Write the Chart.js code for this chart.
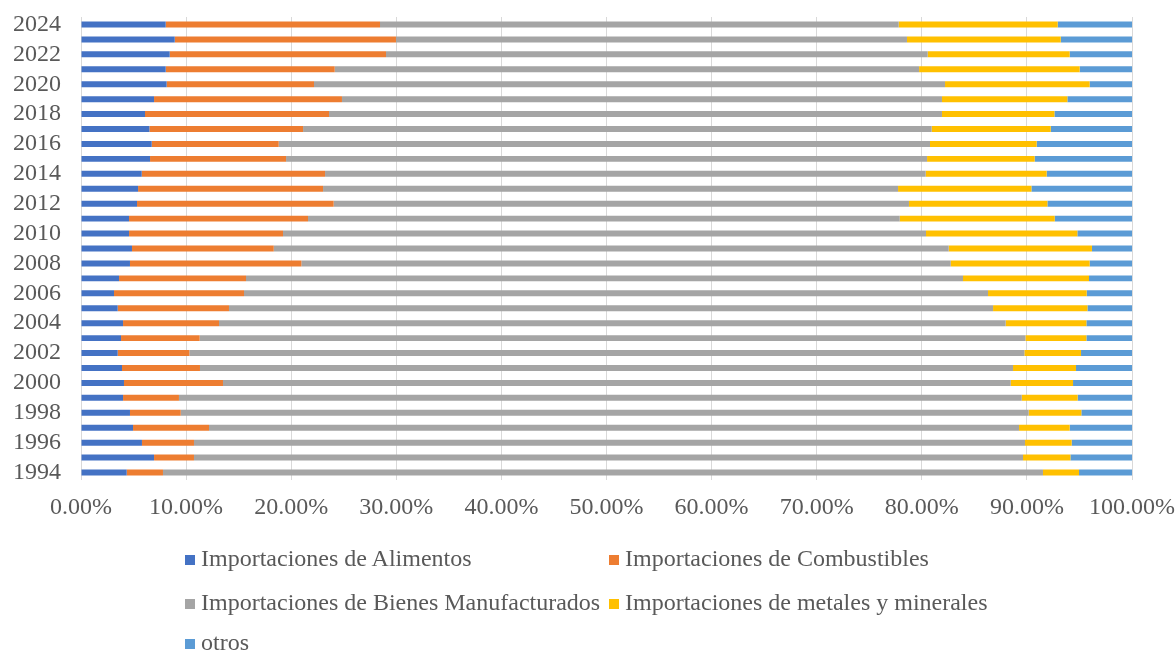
<!DOCTYPE html>
<html>
<head>
<meta charset="utf-8">
<script src="https://cdn.jsdelivr.net/npm/chart.js@4.4.1/dist/chart.umd.min.js"></script>
<style>
  body { margin: 0; background: #fff; }
  #wrap { position: relative; width: 1176px; height: 652px; }
  #legend { position: absolute; left: 0; top: 0; width: 1176px; height: 652px; pointer-events: none;
            font-family: "Liberation Serif", "Times New Roman", serif; font-size: 24px; color: #595959; }
  .item { position: absolute; line-height: 24px; white-space: nowrap; }
  .box { display: inline-block; width: 10px; height: 10px; margin-right: 6px; vertical-align: 1px; }
</style>
</head>
<body>
<div id="wrap">
  <canvas id="importChart" width="1176" height="652"></canvas>
  <div id="legend"></div>
</div>
<script>
const years = [1994, 1995, 1996, 1997, 1998, 1999, 2000, 2001, 2002, 2003, 2004, 2005, 2006, 2007, 2008,
               2009, 2010, 2011, 2012, 2013, 2014, 2015, 2016, 2017, 2018, 2019, 2020, 2021, 2022, 2023, 2024];

const alimentos = [4.35, 6.95, 5.80, 4.95, 4.66, 4.00, 4.09, 3.90, 3.49, 3.81, 4.00, 3.49, 3.14, 3.62, 4.66,
                   4.85, 4.57, 4.57, 5.33, 5.43, 5.78, 6.57, 6.73, 6.51, 6.09, 6.95, 8.15, 8.06, 8.44, 8.92, 8.06];
const combustibles = [3.45, 3.80, 4.95, 7.23, 4.83, 5.32, 9.42, 7.42, 6.82, 7.48, 9.13, 10.59, 12.37, 12.08, 16.31,
                      13.49, 14.65, 17.03, 18.71, 17.60, 17.44, 12.94, 12.08, 14.62, 17.51, 17.88, 14.02, 16.08, 20.58, 21.05, 20.39];
const manufacturados = [83.73, 78.88, 79.07, 77.07, 80.68, 80.19, 74.95, 77.36, 79.45, 78.57, 74.85, 72.70, 70.79, 68.22, 61.78,
                        64.22, 61.18, 56.30, 54.74, 54.71, 57.15, 60.99, 61.97, 59.81, 58.32, 57.09, 60.04, 55.60, 51.54, 48.62, 49.35];
const metales = [3.43, 4.51, 4.44, 4.82, 5.01, 5.32, 5.93, 5.99, 5.39, 5.80, 7.68, 8.98, 9.39, 11.99, 13.22,
                 13.63, 14.40, 14.75, 13.17, 12.69, 11.51, 10.24, 10.15, 11.33, 10.70, 11.93, 13.76, 15.28, 13.51, 14.63, 15.13];
const otros = [5.04, 5.86, 5.74, 5.93, 4.82, 5.17, 5.61, 5.33, 4.85, 4.34, 4.34, 4.24, 4.31, 4.09, 4.03,
               3.81, 5.20, 7.35, 8.05, 9.57, 8.12, 9.26, 9.07, 7.73, 7.38, 6.15, 4.03, 4.98, 5.93, 6.78, 7.07];

const xTicks = [0, 10, 20, 30, 40, 50, 60, 70, 80, 90, 100];

const textColor = '#595959';
const font = { family: '"Liberation Serif", "Times New Roman", serif', size: 24 };

const series = [
    { label: 'Importaciones de Alimentos', data: alimentos, backgroundColor: '#4472C4' },
    { label: 'Importaciones de Combustibles', data: combustibles, backgroundColor: '#ED7D31' },
    { label: 'Importaciones de Bienes Manufacturados', data: manufacturados, backgroundColor: '#A5A5A5' },
    { label: 'Importaciones de metales y minerales', data: metales, backgroundColor: '#FFC000' },
    { label: 'otros', data: otros, backgroundColor: '#5B9BD5' }
];

const ctx = document.getElementById('importChart').getContext('2d');
const chart = new Chart(ctx, {
    type: 'bar',
    data: {
        labels: years,
        datasets: series.map(s => ({
            label: s.label,
            data: s.data,
            backgroundColor: s.backgroundColor,
            barPercentage: 0.4,
            categoryPercentage: 1
        }))
    },
    options: {
        indexAxis: 'y',
        responsive: false,
        animation: false,
        layout: { padding: { left: 0, right: 44, top: 17, bottom: 132 } },
        plugins: {
            legend: { display: false },
            tooltip: { enabled: false }
        },
        scales: {
            x: {
                stacked: true,
                min: 0,
                max: 100,
                afterBuildTicks: axis => { axis.ticks = xTicks.map(v => ({ value: v })); },
                afterFit: axis => {
                    axis.height = 40;
                    axis.paddingLeft = 0;
                    axis.paddingRight = 0;
                },
                grid: { color: '#D9D9D9', lineWidth: 1, drawTicks: false },
                border: { display: false },
                ticks: {
                    font: font,
                    color: textColor,
                    padding: 13,
                    maxRotation: 0,
                    callback: v => v.toFixed(2) + '%'
                }
            },
            y: {
                stacked: true,
                reverse: true,
                afterFit: axis => {
                    axis.width = 81;
                    axis.paddingTop = 0;
                    axis.paddingBottom = 0;
                },
                grid: { display: false, drawTicks: false },
                border: { display: false },
                ticks: {
                    font: font,
                    color: textColor,
                    padding: 20,
                    autoSkip: false,
                    callback: (v, i) => (years[i] % 2 === 0 ? String(years[i]) : '')
                }
            }
        }
    }
});

// legend in two columns, like the original
const legendEl = document.getElementById('legend');
const colX = [185, 609];
const rowTop = [546, 590, 630];
chart.data.datasets.forEach((ds, i) => {
    const item = document.createElement('div');
    item.className = 'item';
    item.style.left = colX[i % 2] + 'px';
    item.style.top = rowTop[Math.floor(i / 2)] + 'px';
    const box = document.createElement('span');
    box.className = 'box';
    box.style.background = ds.backgroundColor;
    item.appendChild(box);
    item.appendChild(document.createTextNode(ds.label));
    legendEl.appendChild(item);
});
</script>
</body>
</html>
